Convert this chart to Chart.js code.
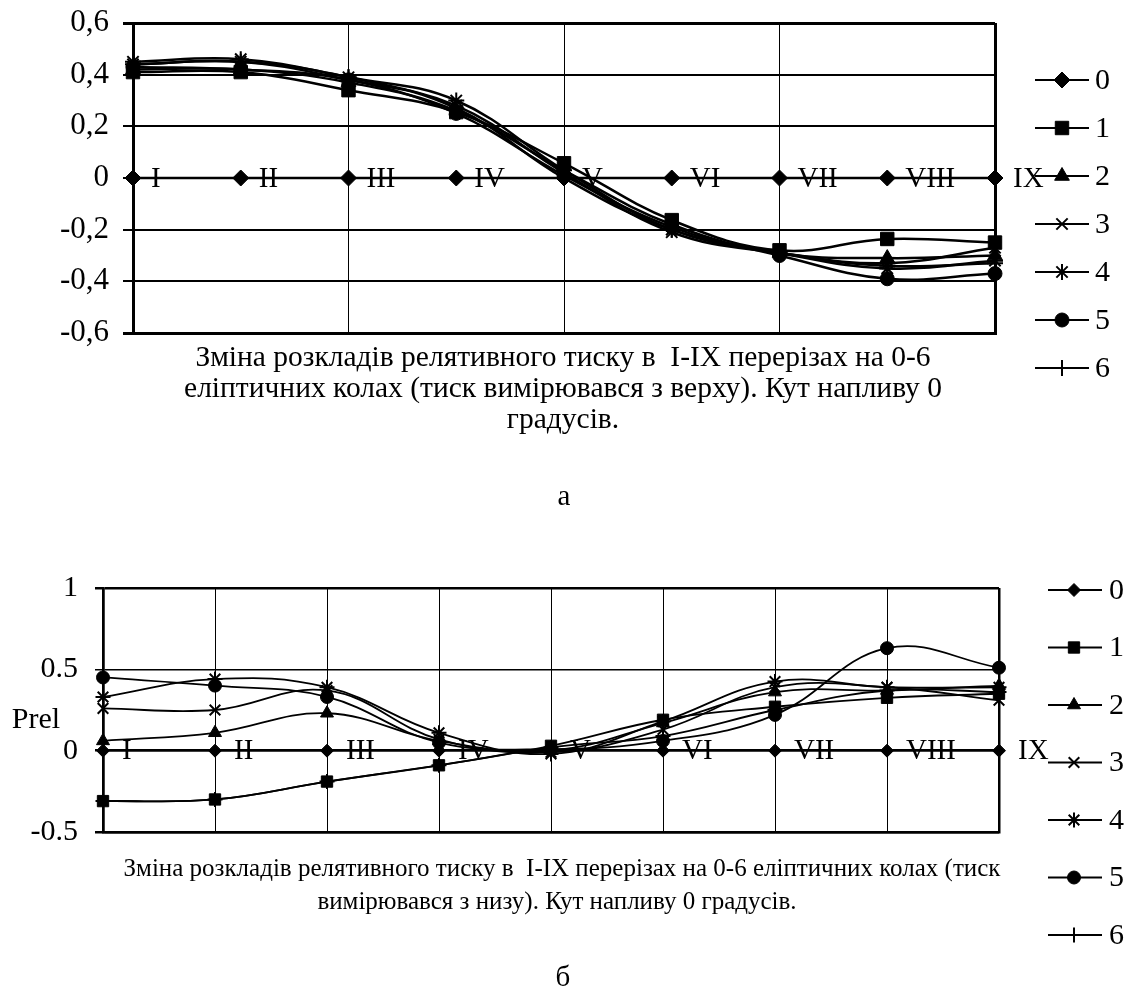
<!DOCTYPE html>
<html>
<head>
<meta charset="utf-8">
<script src="https://cdn.jsdelivr.net/npm/chart.js@4.4.0/dist/chart.umd.min.js"></script>
<style>
body { margin: 0; background: #fff; font-family: "Liberation Serif", "Times New Roman", serif; }
#page { position: relative; width: 1129px; height: 1004px; overflow: hidden; background: #fff; }
canvas { position: absolute; left: 0; }
.txt { position: absolute; color: #000; white-space: nowrap; transform: translateX(-50%); }
</style>
</head>
<body>
<div id="page">
  <canvas id="chartTop" width="1129" height="400" style="top:0px"></canvas>
  <canvas id="chartBottom" width="1129" height="400" style="top:560px"></canvas>

  <div class="txt" style="left:563px; top:339px; font-size:29.5px; line-height:34px;">Зміна розкладів релятивного тиску в&nbsp; I-IX перерізах на 0-6</div>
  <div class="txt" style="left:563px; top:370px; font-size:29.5px; line-height:34px;">еліптичних колах (тиск вимірювався з верху). Кут напливу 0</div>
  <div class="txt" style="left:563px; top:401px; font-size:29.5px; line-height:34px;">градусів.</div>
  <div class="txt" style="left:564px; top:478px; font-size:29px; line-height:34px;">а</div>

  <div class="txt" style="left:36px; top:701px; font-size:30px; line-height:34px;">Prel</div>
  <div class="txt" style="left:562px; top:851px; font-size:25px; line-height:34px;">Зміна розкладів релятивного тиску в&nbsp; I-IX перерізах на 0-6 еліптичних колах (тиск</div>
  <div class="txt" style="left:557px; top:884px; font-size:25px; line-height:34px;">вимірювався з низу). Кут напливу 0 градусів.</div>
  <div class="txt" style="left:563px; top:959px; font-size:29px; line-height:34px;">б</div>
</div>

<script>
// sections along the wing and the elliptic rings (legend)
const sections = ['I', 'II', 'III', 'IV', 'V', 'VI', 'VII', 'VIII', 'IX'];
const rings = ['0', '1', '2', '3', '4', '5', '6'];

// chart a - pressure measured from the top
const topRing0 = [0, 0, 0, 0, 0, 0, 0, 0, 0];
const topRing1 = [0.41, 0.41, 0.34, 0.255, 0.057, -0.163, -0.28, -0.236, -0.25];
const topRing2 = [0.42, 0.42, 0.37, 0.26, 0.03, -0.18, -0.29, -0.31, -0.30];
const topRing3 = [0.44, 0.45, 0.38, 0.28, 0.02, -0.21, -0.29, -0.33, -0.27];
const topRing4 = [0.45, 0.46, 0.39, 0.30, 0.03, -0.20, -0.29, -0.35, -0.32];
const topRing5 = [0.43, 0.42, 0.38, 0.25, 0.01, -0.19, -0.30, -0.39, -0.37];
const topRing6 = [0.44, 0.45, 0.39, 0.27, 0.00, -0.20, -0.29, -0.34, -0.33];
const topTicks = [-0.6, -0.4, -0.2, 0, 0.2, 0.4, 0.6];

// chart б - pressure measured from the bottom
const botRing0 = [0, 0, 0, 0, 0, 0, 0, 0, 0];
const botRing1 = [-0.31, -0.30, -0.19, -0.09, 0.03, 0.19, 0.27, 0.325, 0.35];
const botRing2 = [0.06, 0.11, 0.23, 0.06, 0.00, 0.17, 0.36, 0.37, 0.40];
const botRing3 = [0.26, 0.25, 0.37, 0.07, -0.01, 0.13, 0.39, 0.39, 0.31];
const botRing4 = [0.33, 0.44, 0.39, 0.11, -0.02, 0.18, 0.425, 0.39, 0.39];
const botRing5 = [0.45, 0.40, 0.33, 0.05, 0.01, 0.06, 0.22, 0.63, 0.51];
const botRing6 = [-0.31, -0.30, -0.19, -0.09, 0.02, 0.09, 0.25, 0.37, 0.36];
const botTicks = [-0.5, 0, 0.5, 1];

const styles = ['rectRot', 'rect', 'triangle', 'crossRot', 'star', 'circle', 'cross'];
const serif = '"Liberation Serif", "Times New Roman", serif';

// roman numbers written next to the points of ring 0
const sectionLabels = {
    id: 'sectionLabels',
    afterDatasetsDraw(chart, args, opts) {
        const ctx = chart.ctx;
        const meta = chart.getDatasetMeta(0);
        ctx.save();
        ctx.fillStyle = '#000';
        ctx.font = opts.size + 'px ' + serif;
        ctx.textBaseline = 'middle';
        ctx.textAlign = 'left';
        meta.data.forEach((pt, i) => {
            ctx.fillText(sections[i], pt.x + opts.dx, pt.y + 1);
        });
        ctx.restore();
    }
};

// legend on the right: line with marker and ring number
const ringLegend = {
    id: 'ringLegend',
    afterDraw(chart, args, opts) {
        const ctx = chart.ctx;
        ctx.save();
        chart.data.datasets.forEach((ds, i) => {
            const y = opts.y0 + i * opts.dy;
            ctx.strokeStyle = '#000';
            ctx.fillStyle = '#000';
            ctx.lineWidth = 2;
            ctx.beginPath();
            ctx.moveTo(opts.x1, y);
            ctx.lineTo(opts.x2, y);
            ctx.stroke();
            if (Chart.helpers && Chart.helpers.drawPoint) {
                ctx.lineWidth = ds.pointBorderWidth;
                Chart.helpers.drawPoint(ctx, {
                    pointStyle: ds.pointStyle,
                    radius: ds.pointRadius,
                    rotation: 0,
                    borderWidth: ds.pointBorderWidth
                }, opts.xm, y);
            }
            ctx.font = opts.size + 'px ' + serif;
            ctx.textBaseline = 'middle';
            ctx.textAlign = 'left';
            ctx.fillText(ds.label, opts.xt, y + 1);
        });
        ctx.restore();
    }
};

function makeSets(series, radii, width) {
    return series.map((vals, i) => ({
        label: rings[i],
        data: vals,
        borderColor: '#000',
        backgroundColor: '#000',
        pointBackgroundColor: '#000',
        pointBorderColor: '#000',
        pointStyle: styles[i],
        pointRadius: radii[i],
        pointBorderWidth: (styles[i] === 'crossRot' || styles[i] === 'star' || styles[i] === 'cross') ? 2 : 1,
        borderWidth: width,
        tension: 0.4,
        fill: false
    }));
}

function near(a, b) { return Math.abs(a - b) < 1e-6; }

// keep the plot box where the padding puts it (labels may stick out)
function fixY(width) {
    return s => {
        s.width = width;
        s.paddingTop = 0;
        s.paddingBottom = 0;
    };
}

// chart a
new Chart(document.getElementById('chartTop'), {
    type: 'line',
    data: {
        labels: sections,
        datasets: makeSets([topRing0, topRing1, topRing2, topRing3, topRing4, topRing5, topRing6],
            [8, 9.5, 8.5, 8, 8, 7, 8], 2.5)
    },
    plugins: [sectionLabels, ringLegend],
    options: {
        responsive: false,
        animation: false,
        layout: { padding: { left: 0, right: 134, top: 23, bottom: 67 } },
        scales: {
            x: {
                ticks: { display: false },
                border: { display: true, color: '#000', width: 3 },
                grid: {
                    drawTicks: false,
                    color: c => c.index % 2 === 0 ? '#000' : 'rgba(0,0,0,0)',
                    lineWidth: c => (c.index === 0 || c.index === 8) ? 3 : 1
                },
                afterFit: s => { s.height = 0; }
            },
            y: {
                min: -0.6,
                max: 0.6,
                afterBuildTicks: s => { s.ticks = topTicks.map(v => ({ value: v })); },
                ticks: {
                    color: '#000',
                    padding: 14,
                    font: { family: serif, size: 31 },
                    callback: v => near(v, 0) ? '0' : v.toFixed(1).replace('.', ',')
                },
                border: { display: true, color: '#000', width: 3 },
                grid: {
                    color: '#000',
                    tickLength: 10,
                    lineWidth: c => near(Math.abs(c.tick.value), 0.6) ? 3 : 2
                },
                afterFit: fixY(133)
            }
        },
        plugins: {
            legend: { display: false },
            tooltip: { enabled: false },
            sectionLabels: { dx: 18, size: 29 },
            ringLegend: { x1: 1035, x2: 1089, xm: 1062, xt: 1095, y0: 80, dy: 48, size: 30 }
        }
    }
});

// chart б
new Chart(document.getElementById('chartBottom'), {
    type: 'line',
    data: {
        labels: sections,
        datasets: makeSets([botRing0, botRing1, botRing2, botRing3, botRing4, botRing5, botRing6],
            [6.5, 8, 7.5, 7.5, 7.5, 6.5, 7.5], 1.8)
    },
    plugins: [sectionLabels, ringLegend],
    options: {
        responsive: false,
        animation: false,
        layout: { padding: { left: 0, right: 130, top: 28, bottom: 128 } },
        scales: {
            x: {
                ticks: { display: false },
                border: { display: true, color: '#000', width: 2.5 },
                grid: {
                    drawTicks: false,
                    color: '#000',
                    lineWidth: c => (c.index === 0 || c.index === 8) ? 2.5 : 1
                },
                afterFit: s => { s.height = 0; }
            },
            y: {
                min: -0.5,
                max: 1,
                afterBuildTicks: s => { s.ticks = botTicks.map(v => ({ value: v })); },
                ticks: {
                    color: '#000',
                    padding: 17,
                    font: { family: serif, size: 30 },
                    callback: v => near(v, 0) ? '0' : (near(v, 1) ? '1' : v.toFixed(1))
                },
                border: { display: true, color: '#000', width: 2.5 },
                grid: {
                    color: '#000',
                    tickLength: 8,
                    lineWidth: c => {
                        const v = c.tick.value;
                        if (near(v, 1) || near(v, -0.5) || near(v, 0)) return 2.5;
                        return 1.5;
                    }
                },
                afterFit: fixY(103)
            }
        },
        plugins: {
            legend: { display: false },
            tooltip: { enabled: false },
            sectionLabels: { dx: 19, size: 29 },
            ringLegend: { x1: 1048, x2: 1102, xm: 1074, xt: 1109, y0: 30, dy: 57.5, size: 30 }
        }
    }
});
</script>
</body>
</html>
